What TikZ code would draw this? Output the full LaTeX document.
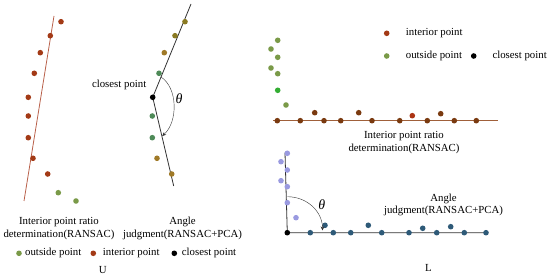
\documentclass[tikz,border=0pt]{standalone}
\usepackage{fontspec}
\setmainfont{Liberation Serif}
\usetikzlibrary{arrows.meta}
\definecolor{ptred}{HTML}{A33A16}
\definecolor{linered}{HTML}{B8604A}
\definecolor{ptolive}{HTML}{8A7A22}
\definecolor{ptgreen}{HTML}{4E8A58}
\definecolor{ptbrown}{HTML}{A07A28}
\definecolor{outgreen}{HTML}{7A9A48}
\definecolor{inbrown}{HTML}{7A3A10}
\definecolor{linebrown}{HTML}{A0603A}
\definecolor{ptlav}{HTML}{9A9AE0}
\definecolor{ptteal}{HTML}{2E5A78}
\tikzset{
  lbl/.style={font=\fontsize{10.8}{12.5}\selectfont, align=center, inner sep=0pt},
  theta/.style={font=\fontsize{14}{14}\selectfont\itshape, inner sep=0pt},
  seg/.style={line width=0.8pt, draw=black!80},
}
\begin{document}
\begin{tikzpicture}[x=1pt, y=-1pt]
    \useasboundingbox (0,0) rectangle (550,278);

    % U: ratio of interior points (left)
    \coordinate (LA) at (54,16);
    \coordinate (LB) at (24,201);
    \draw[linered, line width=0.8pt] (LA) -- (LB);
    \foreach \x/\y in {61/21.7, 50.3/35.7, 40.3/52.7, 34.3/73.3, 28.3/97.3, 28.3/116, 28.3/137.7, 33/158.3, 47.7/174}
        \fill[ptred] (\x,\y) circle (2.8pt);
    \foreach \x/\y in {58.3/192.7, 76/201}
        \fill[outgreen] (\x,\y) circle (2.8pt);
    \node[lbl] (ratioU) at (59,228.5) {Interior point ratio\\determination(RANSAC)};

    % U: angle judgment (middle)
    \coordinate (MT) at (191,4);
    \coordinate (MC) at (152.7,97.3);
    \coordinate (MB) at (173.7,186);
    \coordinate (MU) at (161,77);
    \coordinate (ML) at (162.2,136);
    \draw[seg] (MT) -- (MC) -- (MB);
    \foreach \x/\y in {185/21.7, 175/35.7}
        \fill[ptolive] (\x,\y) circle (2.8pt);
    \fill[ptbrown] (164.3,52.7) circle (2.8pt);
    \foreach \x/\y in {159/73.3, 152.3/116, 152.3/137.7}
        \fill[ptgreen] (\x,\y) circle (2.8pt);
    \foreach \x/\y in {157/158.3, 171.7/174}
        \fill[ptbrown] (\x,\y) circle (2.8pt);
    \fill[black] (MC) circle (2.8pt);
    \node[lbl, anchor=east] (closeU) at (146.5,85) {closest point};
    \draw[black!80, -{Stealth[length=4pt,width=3.5pt]}] (MU) .. controls (178,88) and (178,122) .. (ML);
    \node[theta] (thU) at (179,99) {θ};
    \node[lbl] (angleU) at (182.5,228.5) {Angle\\judgment(RANSAC+PCA)};

    % U: legend
    \fill[outgreen] (19,253.3) circle (2.8pt);
    \node[lbl, anchor=west] (outU) at (25,253.3) {outside point};
    \fill[ptred] (93.3,253.3) circle (2.8pt);
    \node[lbl, anchor=west] (inU) at (102.7,253.3) {interior point};
    \fill[black] (174.3,253.3) circle (2.8pt);
    \node[lbl, anchor=west] (clU) at (181.7,253.3) {closest point};
    \node[lbl] (capU) at (102.7,270) {U};

    % L: ratio of interior points (top right)
    \coordinate (RA) at (273.3,120.7);
    \coordinate (RB) at (498.3,120.7);
    \draw[linebrown, line width=0.8pt] (RA) -- (RB);
    \foreach \x/\y in {277.7/40.3, 271/49, 277.7/57.3, 271/68, 277.7/73.7, 286/105}
        \fill[outgreen] (\x,\y) circle (2.8pt);
    \fill[green!60!black!80] (277.7,90.3) circle (2.8pt);
    \foreach \x in {277.3, 300.3, 324, 340.7, 372, 399.7, 427.3, 454.3, 476.3}
        \fill[inbrown] (\x,120.7) circle (2.8pt);
    \foreach \x/\y in {314.7/112.7, 358.7/112.7, 440.7/113.7}
        \fill[inbrown] (\x,\y) circle (2.8pt);
    \fill[ptred!90!red] (412.3,115.7) circle (2.8pt);
    \node[lbl] (ratioL) at (404,142.5) {Interior point ratio\\determination(RANSAC)};

    % L: legend
    \fill[ptred] (386.7,33.3) circle (2.8pt);
    \node[lbl, anchor=west] (inL) at (405.7,33.3) {interior point};
    \fill[outgreen] (386.7,56) circle (2.8pt);
    \node[lbl, anchor=west] (outL) at (405.7,56) {outside point};
    \fill[black] (473.7,56) circle (2.8pt);
    \node[lbl, anchor=west] (clL) at (492.3,56) {closest point};

    % L: angle judgment (bottom right)
    \coordinate (VT) at (285,152.7);
    \coordinate (VC) at (287.3,232.7);
    \coordinate (VR) at (486.7,232.7);
    \coordinate (VU) at (287.3,196.7);
    \coordinate (VL) at (322.5,230.5);
    \draw[seg] (VT) -- (VC) -- (VR);
    \foreach \x/\y in {287.3/153.3, 281/161.7, 287.3/170, 281/180.7, 287.3/186.7, 287.3/202.7, 296/217.7}
        \fill[ptlav] (\x,\y) circle (2.8pt);
    \foreach \x in {310.3, 333.3, 350.7, 381.7, 409, 436.7, 464.3, 486}
        \fill[ptteal] (\x,232.7) circle (2.8pt);
    \foreach \x/\y in {325/225.3, 368.3/225.3, 422.7/228.3, 450.7/226.7}
        \fill[ptteal] (\x,\y) circle (2.8pt);
    \fill[black] (VC) circle (2.8pt);
    \draw[black!80, -{Stealth[length=4pt,width=3.5pt]}] (VU) .. controls (307.5,196.7) and (322.5,212) .. (VL);
    \node[theta] (thL) at (321.7,204.3) {θ};
    \node[lbl] (angleL) at (443.5,205) {Angle\\judgment(RANSAC+PCA)};
    \node[lbl] (capL) at (428.3,268.3) {L};
\end{tikzpicture}
\end{document}
